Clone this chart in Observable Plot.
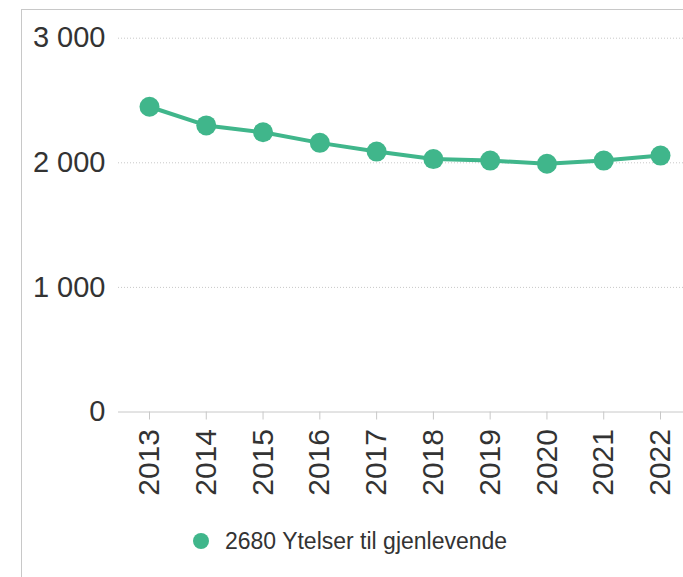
<!DOCTYPE html>
<html>
<head>
<meta charset="utf-8">
<script src="https://cdn.jsdelivr.net/npm/d3@7"></script>
<script src="https://cdn.jsdelivr.net/npm/@observablehq/plot@0.6"></script>
<style>
  html, body { margin: 0; padding: 0; background: #fff; }
  body { width: 683px; height: 577px; position: relative; overflow: hidden;
         font-family: "Liberation Sans", Arial, sans-serif; }
  #frame { position: absolute; left: 21px; top: 9px; right: 0; bottom: 0;
           border-top: 1px solid #c8c8c8; border-left: 1px solid #c8c8c8; }
  #chart { position: absolute; left: 0; top: 0; }
  #legend { position: absolute; left: 193px; top: 529px; display: flex; align-items: center;
            font-size: 23px; color: #333; height: 24px; }
  #legend .sw { width: 16px; height: 16px; border-radius: 50%; background: #40b68b; margin-right: 16px; }
</style>
</head>
<body>
<div id="frame"></div>
<div id="chart"></div>
<div id="legend"><span class="sw"></span><span id="legendText"></span></div>
<script>
const years = [2013, 2014, 2015, 2016, 2017, 2018, 2019, 2020, 2021, 2022];
const values = [2450, 2300, 2245, 2160, 2090, 2030, 2018, 1992, 2018, 2058];
const seriesName = "2680 Ytelser til gjenlevende";
const yTicks = [0, 1000, 2000, 3000];

const color = "#40b68b";
const data = years.map((y, i) => ({year: y, value: values[i]}));
const fmt = d3.formatLocale({thousands: " ", grouping: [3], decimal: ","}).format(",");

const chart = Plot.plot({
  width: 683,
  height: 500,
  marginTop: 37.7,
  marginBottom: 88.5,
  marginLeft: 118,
  marginRight: 0,
  style: {fontFamily: "'Liberation Sans', Arial, sans-serif", background: "transparent", overflow: "visible"},
  x: {domain: [2012.454, 2022.405]},
  y: {domain: [0, 3000]},
  marks: [
    Plot.ruleY(yTicks.filter(d => d > 0), {stroke: "#c8c8c8", strokeDasharray: "1,2"}),
    Plot.ruleY([0], {stroke: "#c8c8c8"}),
    Plot.axisY({ticks: yTicks, tickSize: 0, tickPadding: 13, fontSize: 29, fill: "#333", tickFormat: fmt, label: null}),
    Plot.axisX({ticks: years, tickSize: 8, tickPadding: 9, tickRotate: -90, fontSize: 30, fill: "#333", stroke: "#c8c8c8", tickFormat: d => String(d), label: null}),
    Plot.line(data, {x: "year", y: "value", stroke: color, strokeWidth: 4}),
    Plot.dot(data, {x: "year", y: "value", r: 10, fill: color, stroke: "none"})
  ]
});
document.getElementById("chart").appendChild(chart);
document.getElementById("legendText").textContent = seriesName;
</script>
</body>
</html>
